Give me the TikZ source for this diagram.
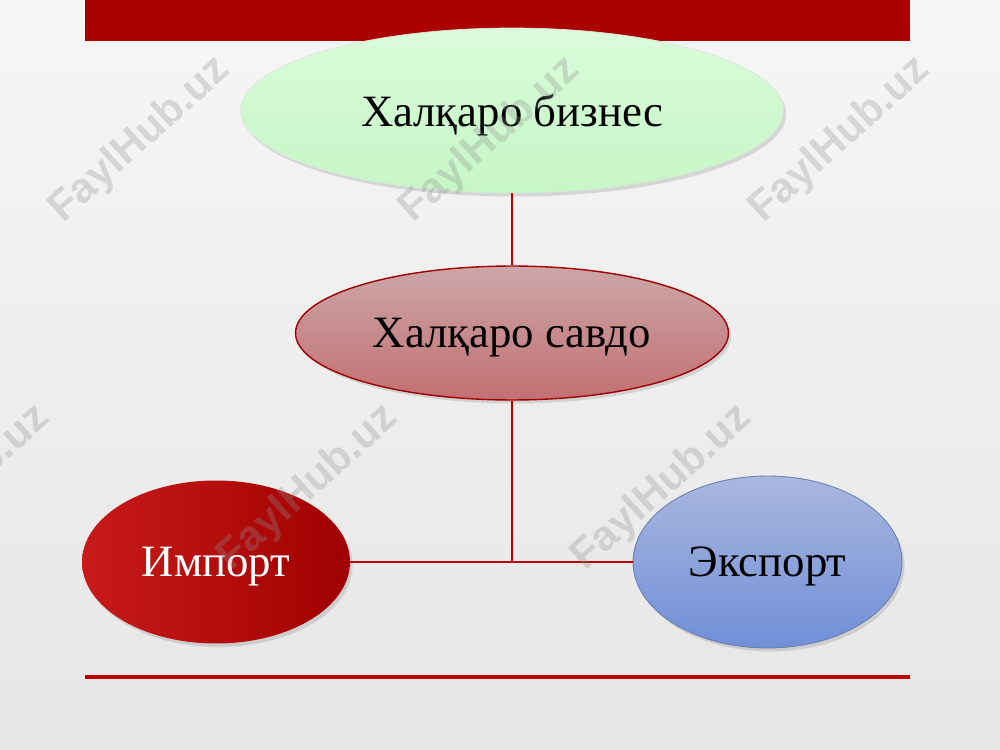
\documentclass[tikz,border=0pt]{standalone}
\usepackage{fontspec}
\setmainfont{Liberation Serif}
\newfontfamily\wmfont{Liberation Sans}
\usetikzlibrary{shapes.geometric,shadows}
\definecolor{barred}{HTML}{AA0000}
\definecolor{linered}{HTML}{BB0000}
\definecolor{bglight}{HTML}{F6F6F6}
\definecolor{bgdark}{HTML}{E6E6E6}
\definecolor{greentop}{HTML}{DAFBDA}
\definecolor{greenbot}{HTML}{C6F6C6}
\definecolor{rosetop}{HTML}{CCA6A8}
\definecolor{rosebot}{HTML}{C27072}
\definecolor{rosedraw}{HTML}{A00000}
\definecolor{imptop}{HTML}{C81A1A}
\definecolor{impbot}{HTML}{A00000}
\definecolor{exptop}{HTML}{AAB7DE}
\definecolor{expbot}{HTML}{6F8FD8}
\definecolor{expdraw}{HTML}{6A7FB0}
\definecolor{wmgray}{HTML}{909090}
\tikzset{
  bubble/.style={ellipse, inner sep=0pt, text depth=0pt, font=\fontsize{25.5}{30}\selectfont,
    drop shadow={shadow xshift=1.5pt, shadow yshift=-2pt, opacity=0.25}},
  conn/.style={draw=linered, line width=1.2pt},
  watermark/.style={font=\wmfont\bfseries\fontsize{24}{28}\selectfont, text=wmgray, opacity=0.3, rotate=42}
}
\begin{document}
\begin{tikzpicture}[x=0.02cm,y=-0.02cm]
\useasboundingbox (0,0) rectangle (1000,750);
% background
\shade[top color=bglight, bottom color=bgdark] (0,0) rectangle (1000,750);
% top bar and bottom rule
\fill[barred] (85,0) rectangle (910,41);
\draw[draw=linered, line width=2pt] (85,677) -- (910,677);
% nodes
\node[bubble, minimum width=10.86cm, minimum height=3.3cm, top color=greentop, bottom color=greenbot, draw=greenbot!80!black!40] (top) at (512,110.5) {Халқаро бизнес};
\node[bubble, minimum width=8.66cm, minimum height=2.68cm, top color=rosetop, bottom color=rosebot, draw=rosedraw, line width=0.8pt] (savdo) at (512,333) {Халқаро савдо};
\node[bubble, minimum width=5.36cm, minimum height=3.26cm, shading angle=-45, left color=imptop, right color=impbot, text=white] (import) at (216,562) {Импорт};
\node[bubble, minimum width=5.38cm, minimum height=3.44cm, top color=exptop, bottom color=expbot, draw=expdraw, line width=0.5pt] (export) at (767.5,562) {Экспорт};
% connectors
\coordinate (junction) at (savdo.south |- import.east);
\draw[conn] (top.south) -- (savdo.north);
\draw[conn] (savdo.south) -- (junction);
\draw[conn] (import.east) -- (export.west);
% watermarks
\node[watermark] (wm1) at (140,140) {FaylHub.uz};
\node[watermark] (wm2) at (490,140) {FaylHub.uz};
\node[watermark] (wm3) at (840,140) {FaylHub.uz};
\node[watermark] (wm4) at (-40,488) {FaylHub.uz};
\node[watermark] (wm5) at (308,488) {FaylHub.uz};
\node[watermark] (wm6) at (662,488) {FaylHub.uz};
\end{tikzpicture}
\end{document}
